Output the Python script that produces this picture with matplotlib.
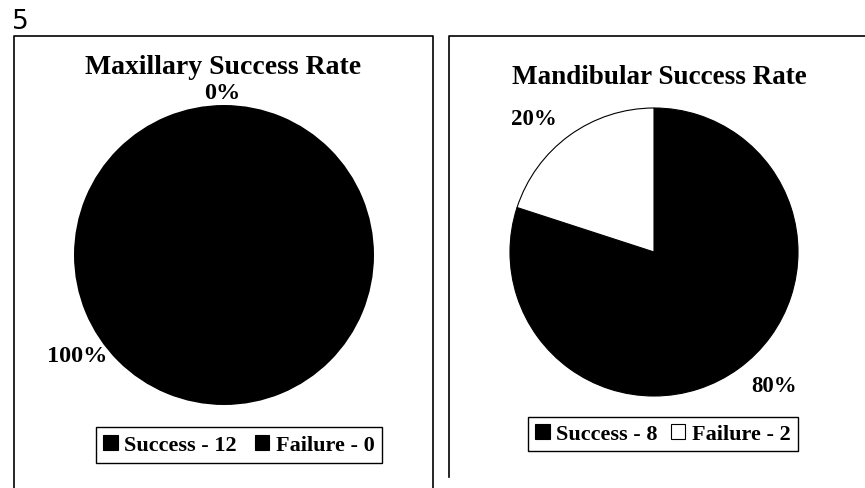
import matplotlib
matplotlib.use('Agg')
import matplotlib.pyplot as plt
from matplotlib.lines import Line2D
from matplotlib.patches import Patch

W, H = 865, 489

# data
categories = ['Success', 'Failure']
max_counts = [12, 0]
max_pct = ['100%', '0%']
mand_counts = [8, 2]
mand_pct = ['80%', '20%']

max_colors = ['black', 'black']
mand_colors = ['black', 'white']

serif = 'Liberation Serif'

fig = plt.figure(figsize=(W / 100, H / 100), dpi=100)


def px_axes(cx, cy, r):
    # square axes around a pie centre given in pixels (top-left origin)
    return fig.add_axes([(cx - r) / W, (H - cy - r) / H, 2 * r / W, 2 * r / H])


def fig_line(xs, ys):
    fig.add_artist(Line2D([x / W for x in xs], [1 - y / H for y in ys],
                          color='black', lw=1.2, transform=fig.transFigure))


# panel frames
fig_line([14, 14, 433, 433], [489, 37, 37, 489])
fig_line([449, 449, 865], [478, 37, 37])

fig.text(20 / W, 1 - 22 / H, '5', fontsize=19, family='DejaVu Sans',
         ha='center', va='center')

# left pie: maxillary
ax1 = px_axes(224, 256, 150)
ax1.pie(max_counts, colors=max_colors, startangle=90, counterclock=False,
        wedgeprops=dict(linewidth=0))
ax1.set_xlim(-1, 1)
ax1.set_ylim(-1, 1)
ax1.axis('off')
ax1.text(-0.98, -0.67, max_pct[0], fontsize=17.5, family=serif, weight='bold',
         ha='center', va='center')
ax1.text(-0.01, 1.08, max_pct[1], fontsize=17.5, family=serif, weight='bold',
         ha='center', va='center')
fig.text(223 / W, 1 - 68 / H, 'Maxillary Success Rate', fontsize=20,
         family=serif, weight='bold', ha='center', va='center')

# right pie: mandibular
ax2 = px_axes(654, 253, 144)
ax2.pie(mand_counts, colors=mand_colors, startangle=90, counterclock=False,
        labels=[mand_pct[0], mand_pct[1]], labeldistance=1.15,
        textprops=dict(fontsize=16.5, family=serif, weight='bold'),
        wedgeprops=dict(linewidth=0.8, edgecolor='black'))
ax2.set_xlim(-1, 1)
ax2.set_ylim(-1, 1)
ax2.axis('off')
fig.text(659 / W, 1 - 78 / H, 'Mandibular Success Rate', fontsize=19.5,
         family=serif, weight='bold', ha='center', va='center')

# legends
h1 = [Patch(facecolor=c, edgecolor='black', lw=0.8) for c in max_colors]
l1 = [f'{c} - {n}' for c, n in zip(categories, max_counts)]
fig.legend(h1, l1, loc='center', bbox_to_anchor=(239 / W, 1 - 446 / H),
           ncol=2, fancybox=False, edgecolor='black', framealpha=1,
           handlelength=0.65, handleheight=0.65, handletextpad=0.3,
           columnspacing=0.8, borderpad=0.35, borderaxespad=0,
           prop=dict(family=serif, weight='bold', size=16))

h2 = [Patch(facecolor=c, edgecolor='black', lw=0.8) for c in mand_colors]
l2 = [f'{c} - {n}' for c, n in zip(categories, mand_counts)]
fig.legend(h2, l2, loc='center', bbox_to_anchor=(663 / W, 1 - 435 / H),
           ncol=2, fancybox=False, edgecolor='black', framealpha=1,
           handlelength=0.65, handleheight=0.65, handletextpad=0.3,
           columnspacing=0.6, borderpad=0.3, borderaxespad=0,
           prop=dict(family=serif, weight='bold', size=16))

fig.savefig('out.png', dpi=100)
